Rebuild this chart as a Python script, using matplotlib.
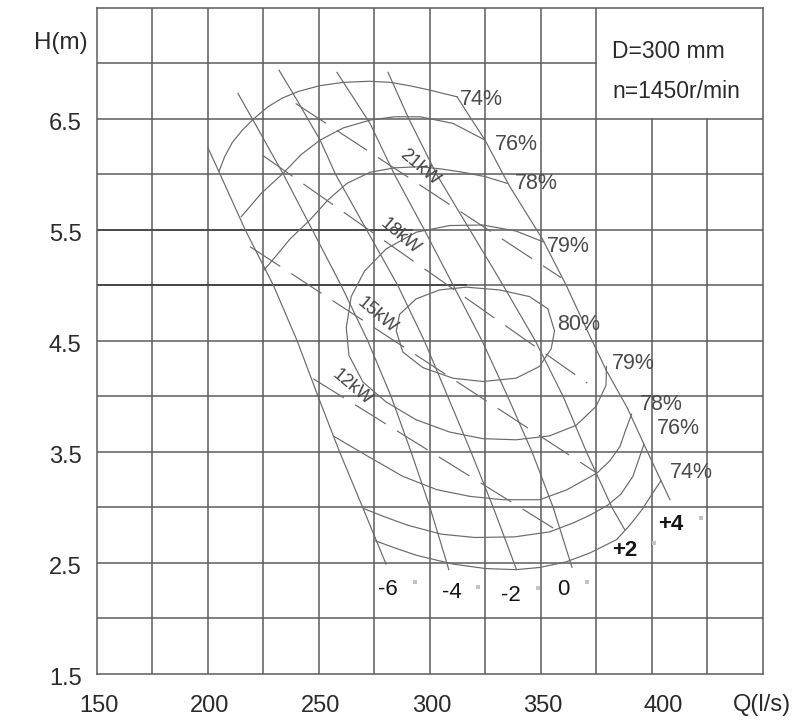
import numpy as np
import matplotlib
matplotlib.use("Agg")
import matplotlib.pyplot as plt
from matplotlib.transforms import ScaledTranslation

plt.rcParams['font.family'] = ['Liberation Sans', 'DejaVu Sans']
plt.rcParams['lines.scale_dashes'] = False

# axis ticks
q_ticks = [150, 200, 250, 300, 350, 400]
h_ticks = [1.5, 2.5, 3.5, 4.5, 5.5, 6.5]

# head curves for each blade angle (Q in l/s, H in m)
head_m6_q = [200.0, 205.5, 216.8, 229.5, 240.2, 249.6, 259.3, 269.7, 280.2]
head_m6_h = [6.24, 6.0, 5.5, 5.0, 4.5, 4.0, 3.5, 3.0, 2.49]
head_m4_q = [213.5, 220.3, 234.0, 247.0, 260.0, 272.0, 282.5, 291.5, 300.0, 308.5]
head_m4_h = [6.73, 6.49, 6.0, 5.5, 5.0, 4.5, 4.0, 3.5, 3.0, 2.44]
head_m2_q = [232.0, 240.1, 250.5, 257.5, 271.5, 285.5, 297.5, 308.0, 318.5, 328.5, 339.0]
head_m2_h = [6.94, 6.67, 6.31, 6.0, 5.5, 5.0, 4.5, 4.0, 3.5, 3.0, 2.44]
head_0_q = [258.1, 273.0, 284.0, 297.5, 310.5, 323.5, 335.0, 346.0, 355.5, 364.0]
head_0_h = [6.92, 6.46, 6.0, 5.5, 5.0, 4.5, 4.0, 3.5, 3.0, 2.46]
head_p2_q = [281.1, 290.5, 303.0, 318.0, 333.0, 347.5, 360.0, 370.5, 382.0, 387.7]
head_p2_h = [6.92, 6.5, 6.0, 5.5, 5.0, 4.5, 4.0, 3.5, 3.0, 2.80]
head_p4_q = [312.2, 318.6, 324.8, 333.0, 336.0, 348.1, 350.9, 361.4, 370.7, 373.1, 379.3, 386.0, 388.7, 398.0, 408.1]
head_p4_h = [6.70, 6.5, 6.31, 6.0, 5.89, 5.5, 5.41, 5.0, 4.60, 4.5, 4.24, 4.0, 3.905, 3.5, 3.07]

angle_labels = ['-6', '-4', '-2', '0', '+2', '+4']
angle_label_q = [281.1, 309.9, 336.5, 359.9, 387.8, 408.6]
angle_label_h = [2.257, 2.23, 2.21, 2.257, 2.617, 2.85]

# efficiency contours
eff74_top_q = [205.0, 207.5, 211.0, 215.5, 220.5, 227.0, 233.6, 241.0, 250.3, 261.0, 272.8, 282.0, 290.8, 300.0, 306.0, 312.2]
eff74_top_h = [6.03, 6.16, 6.29, 6.40, 6.50, 6.61, 6.69, 6.75, 6.80, 6.83, 6.84, 6.83, 6.80, 6.76, 6.73, 6.70]
eff74_bot_q = [404.0, 400.0, 395.5, 390.0, 384.0, 372.0, 361.3, 349.5, 338.8, 325.0, 310.4, 300.0, 293.8, 285.0, 275.3]
eff74_bot_h = [3.24, 3.12, 2.98, 2.84, 2.71, 2.59, 2.51, 2.46, 2.44, 2.45, 2.49, 2.54, 2.57, 2.63, 2.70]
eff76_top_q = [215.0, 224.0, 233.8, 242.0, 250.5, 261.0, 273.0, 284.0, 295.5, 310.4, 324.8]
eff76_top_h = [5.62, 5.83, 6.01, 6.18, 6.31, 6.42, 6.49, 6.52, 6.52, 6.46, 6.31]
eff76_bot_q = [396.4, 391.4, 386.0, 380.0, 372.0, 364.4, 353.8, 338.0, 320.0, 305.0, 290.0, 279.0, 270.2]
eff76_bot_h = [3.57, 3.28, 3.12, 3.02, 2.93, 2.86, 2.78, 2.735, 2.73, 2.76, 2.84, 2.92, 2.99]
eff78_top_q = [225.3, 230.0, 237.0, 245.9, 254.0, 262.6, 273.0, 284.0, 295.5, 305.0, 314.9, 325.0, 334.8]
eff78_top_h = [5.14, 5.25, 5.42, 5.59, 5.77, 5.92, 6.02, 6.06, 6.07, 6.05, 6.02, 5.98, 5.92]
eff78_bot_q = [390.8, 388.0, 385.6, 381.0, 375.2, 368.0, 361.7, 349.5, 332.9, 318.0, 303.2, 287.8, 273.0, 256.8]
eff78_bot_h = [3.84, 3.69, 3.55, 3.42, 3.31, 3.23, 3.16, 3.07, 3.07, 3.10, 3.16, 3.28, 3.45, 3.64]
eff79_q = [351.5, 338.8, 323.8, 308.8, 293.8, 280.3, 270.5, 264.5, 262.3, 263.5, 269.8, 280.3, 293.8,
           308.8, 323.8, 338.8, 353.8, 365.8, 374.8, 379.3, 379.5]
eff79_h = [5.39, 5.49, 5.545, 5.54, 5.48, 5.33, 5.13, 4.90, 4.62, 4.37, 4.13, 3.95, 3.79,
           3.68, 3.62, 3.61, 3.645, 3.74, 3.91, 4.10, 4.27]
eff80_q = [356.1, 353.1, 344.8, 331.3, 316.3, 304.3, 293.8, 286.3, 284.8, 287.8, 296.8, 310.3,
           323.8, 338.8, 349.3, 354.6, 356.1]
eff80_h = [4.59, 4.79, 4.90, 4.96, 4.985, 4.96, 4.88, 4.74, 4.59, 4.40, 4.26, 4.165,
           4.135, 4.165, 4.27, 4.43, 4.59]

eff_top_labels = ['74%', '76%', '78%', '79%', '80%']
eff_top_label_q = [313.5, 329.3, 338.3, 352.7, 357.2]
eff_top_label_h = [6.68, 6.266, 5.919, 5.347, 4.653]
eff_bot_labels = ['79%', '78%', '76%', '74%']
eff_bot_label_q = [382.0, 394.6, 402.3, 408.1]
eff_bot_label_h = [4.293, 3.928, 3.716, 3.311]

# shaft power lines
power_labels = ['21kW', '18kW', '15kW', '12kW']
power_q0 = [239.5, 224.8, 218.9, 247.4]
power_h0 = [6.64, 6.17, 5.35, 4.16]
power_q1 = [359.1, 370.9, 375.2, 357.5]
power_h1 = [5.07, 4.12, 3.31, 2.79]
power_label_q = [295.5, 286.5, 276.1, 264.9]
power_label_h = [6.06, 5.44, 4.73, 4.08]

# little grey marks near the angle labels
mark_q = [293.2, 321.6, 348.6, 370.7, 400.9, 422.1]
mark_h = [2.33, 2.28, 2.275, 2.33, 2.68, 2.905]

grid_color = '#5c5c5c'
curve_color = '#6a6a6a'

fig = plt.figure(figsize=(7.97, 7.2), dpi=100)
ax = fig.add_axes([0.1217, 0.0639, 0.8356, 0.925])
ax.set_xlim(150, 450)
ax.set_ylim(1.5, 7.5)

# grid, with the blank box top right
for q in np.arange(175, 450, 25):
    top = 6.5 if q > 375 else 7.5
    ax.plot([q, q], [1.5, top], color=grid_color, lw=1.1, zorder=1)
for h in np.arange(2.0, 7.5, 0.5):
    right = 375 if abs(h - 7.0) < 1e-6 else 450
    ax.plot([150, right], [h, h], color=grid_color, lw=1.1, zorder=1)
ax.plot([150, 292], [5.5, 5.5], color='#454545', lw=1.25, zorder=1)
ax.plot([150, 316], [5.0, 5.0], color='#424242', lw=1.3, zorder=1)
for s in ax.spines.values():
    s.set_color(grid_color)
    s.set_linewidth(1.1)

heads = [(head_m6_q, head_m6_h), (head_m4_q, head_m4_h), (head_m2_q, head_m2_h),
         (head_0_q, head_0_h), (head_p2_q, head_p2_h), (head_p4_q, head_p4_h)]
for q, h in heads:
    ax.plot(q, h, color=curve_color, lw=0.85, zorder=2)

effs = [(eff74_top_q, eff74_top_h), (eff74_bot_q, eff74_bot_h),
        (eff76_top_q, eff76_top_h), (eff76_bot_q, eff76_bot_h),
        (eff78_top_q, eff78_top_h), (eff78_bot_q, eff78_bot_h),
        (eff79_q, eff79_h), (eff80_q, eff80_h)]
for q, h in effs:
    ax.plot(q, h, color=curve_color, lw=0.85, zorder=2)

for i in range(len(power_labels)):
    ax.plot([power_q0[i], power_q1[i]], [power_h0[i], power_h1[i]], color=curve_color,
            lw=0.85, dashes=(26, 9.5), zorder=2)
    ax.text(power_label_q[i], power_label_h[i], power_labels[i], fontsize=13, color='#444444',
            rotation=-40, rotation_mode='anchor', ha='center', va='center', zorder=3)

for lab, q, h in zip(eff_top_labels, eff_top_label_q, eff_top_label_h):
    ax.text(q, h, lab, fontsize=15.5, color='#4a4a4a', ha='left', va='center', zorder=3)
for lab, q, h in zip(eff_bot_labels, eff_bot_label_q, eff_bot_label_h):
    ax.text(q, h, lab, fontsize=15.5, color='#4a4a4a', ha='left', va='center', zorder=3)

for lab, q, h in zip(angle_labels, angle_label_q, angle_label_h):
    w = 'bold' if lab.startswith('+') else 'normal'
    ax.text(q, h, lab, fontsize=16, color='#151515', ha='center', va='center',
            fontweight=w, zorder=3)

ax.scatter(mark_q, mark_h, marker='s', s=8, color='#c4c4c4', linewidths=0, zorder=3)

# ticks and axis titles
ax.set_xticks(q_ticks)
ax.set_yticks(h_ticks)
ax.tick_params(axis='x', length=0, labelsize=17, labelcolor='#2a2a2a', pad=15)
ax.tick_params(axis='y', length=0, labelsize=17, labelcolor='#2a2a2a', pad=11)
for lab in ax.get_xticklabels():
    dx = 0.11 if lab.get_text() == '400' else 0.02
    lab.set_transform(lab.get_transform() + ScaledTranslation(dx, 0, fig.dpi_scale_trans))
for lab in ax.get_yticklabels():
    lab.set_transform(lab.get_transform() + ScaledTranslation(0, -0.03, fig.dpi_scale_trans))

ax.text(-0.0548, 0.9474, 'H(m)', transform=ax.transAxes, fontsize=17.5, color='#2a2a2a',
        ha='center', va='center')
ax.text(0.9985, -0.0465, 'Q(l/s)', transform=ax.transAxes, fontsize=17, color='#2a2a2a',
        ha='center', va='center', clip_on=False)
ax.text(0.7733, 0.934, 'D=300 mm', transform=ax.transAxes, fontsize=16.5, color='#2a2a2a',
        ha='left', va='center')
ax.text(0.7733, 0.874, 'n=1450r/min', transform=ax.transAxes, fontsize=16.5, color='#2a2a2a',
        ha='left', va='center')

fig.savefig('out.png', dpi=100)
